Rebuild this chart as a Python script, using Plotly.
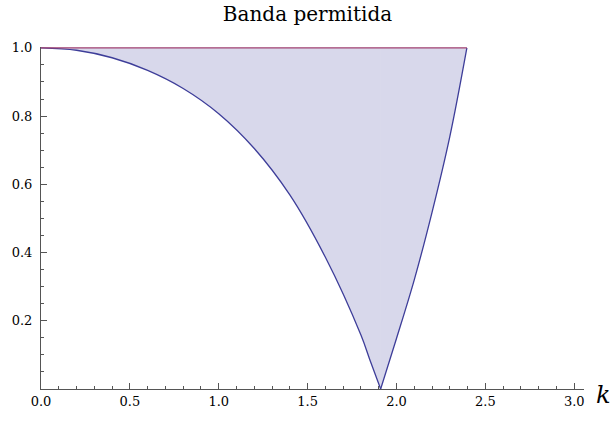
import plotly.graph_objects as go

# Lower edge of the allowed band, read as (k, value) pairs
k_left = [0.0, 0.2, 0.4, 0.6, 0.8, 1.0, 1.2, 1.4, 1.6, 1.8, 1.85, 1.911]
band_left = [1.0, 0.993, 0.971, 0.934, 0.881, 0.807, 0.705, 0.569, 0.386, 0.158, 0.086, 0.0]
k_right = [1.911, 2.0, 2.1, 2.2, 2.3, 2.396]
band_right = [0.0, 0.148, 0.320, 0.518, 0.740, 1.0]

# Upper edge of the band
top_level = 1.0

x_ticks = [0.0, 0.5, 1.0, 1.5, 2.0, 2.5, 3.0]
y_ticks = [0.2, 0.4, 0.6, 0.8, 1.0]

BLUE = "rgb(61,61,153)"
RED = "rgb(160,64,112)"
FILL = "rgba(61,61,153,0.2)"
AXIS = "#555555"
SERIF = "DejaVu Serif"

fig = go.Figure()

# Filled band, one piece per branch so the sharp corner at the minimum is kept
for ks, vs in ((k_left, band_left), (k_right, band_right)):
    fig.add_trace(go.Scatter(x=ks, y=[top_level] * len(ks), mode="lines",
                             line=dict(width=0, color=FILL), hoverinfo="skip"))
    fig.add_trace(go.Scatter(x=ks, y=vs, mode="lines", fill="tonexty", fillcolor=FILL,
                             line=dict(color=BLUE, width=1.3, shape="spline", smoothing=1.0)))

# Top boundary line
fig.add_trace(go.Scatter(x=[k_left[0], k_right[-1]], y=[top_level, top_level], mode="lines",
                         line=dict(color=RED, width=1.3)))

fig.update_layout(
    width=615, height=422,
    margin=dict(l=41, r=31, t=47, b=33),
    paper_bgcolor="white", plot_bgcolor="white",
    showlegend=False,
    title=dict(text="Banda permitida", x=0.5, xanchor="center", y=0.968, yanchor="middle",
               font=dict(family=SERIF, size=20, color="black")),
    font=dict(family=SERIF, color="black"),
)

fig.update_xaxes(
    range=[0, 3.055], showgrid=False, zeroline=False,
    showline=True, linecolor=AXIS, linewidth=1,
    tickmode="array", tickvals=x_ticks, ticktext=[f"{v:.1f}" for v in x_ticks],
    ticks="inside", ticklen=6, tickcolor=AXIS, tickwidth=1,
    tickfont=dict(family=SERIF, size=13, color="black"),
    minor=dict(ticks="inside", ticklen=3, tickcolor=AXIS, dtick=0.1, tick0=0, showgrid=False),
)

fig.update_yaxes(
    range=[0, 1.0025], showgrid=False, zeroline=False,
    showline=True, linecolor=AXIS, linewidth=1,
    tickmode="array", tickvals=y_ticks, ticktext=[f"{v:.1f}" for v in y_ticks],
    ticks="inside", ticklen=6, tickcolor=AXIS, tickwidth=1,
    ticklabelstandoff=5,
    tickfont=dict(family=SERIF, size=13, color="black"),
    minor=dict(ticks="inside", ticklen=3, tickcolor=AXIS, dtick=0.05, tick0=0, showgrid=False),
)

# Axis label for k, placed past the end of the horizontal axis
fig.add_annotation(text="<i>k</i>", xref="paper", yref="paper", x=1.0, y=0.0,
                   xanchor="left", yanchor="middle", xshift=10, yshift=-6, showarrow=False,
                   font=dict(family=SERIF, size=24, color="black"))

fig.write_html("out.html")
